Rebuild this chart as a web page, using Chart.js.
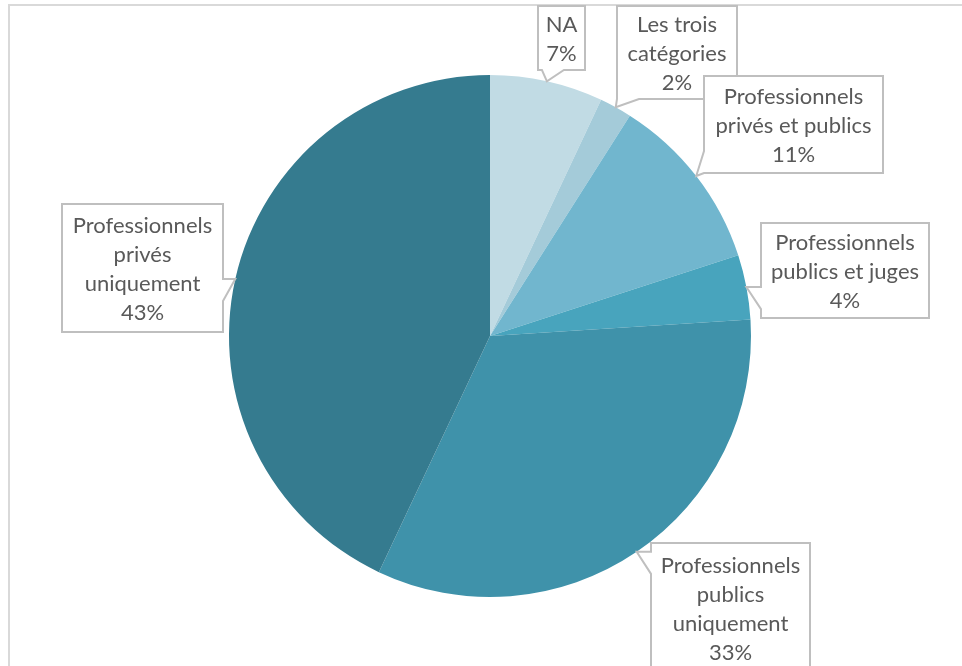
<!DOCTYPE html>
<html>
<head>
<meta charset="utf-8">
<script src="https://cdn.jsdelivr.net/npm/chart.js@4/dist/chart.umd.min.js"></script>
<style>
  html, body { margin: 0; padding: 0; background: #fff; }
  #wrap { width: 962px; height: 666px; position: relative; }
</style>
</head>
<body>
<div id="wrap"><canvas id="pie"></canvas></div>
<script>
const categories = [
  ['NA'],
  ['Les trois', 'catégories'],
  ['Professionnels', 'privés et publics'],
  ['Professionnels', 'publics et juges'],
  ['Professionnels', 'publics', 'uniquement'],
  ['Professionnels', 'privés', 'uniquement']
];
const shares = [7, 2, 11, 4, 33, 43];
const colors = ['#c1dbe4', '#a4cbd9', '#71b6ce', '#48a4bd', '#3f92aa', '#357b8f'];

// where each callout box sits on the page
const boxes = [
  { x: 538, y: 6, w: 47, h: 64 },
  { x: 617, y: 6, w: 120, h: 93 },
  { x: 704, y: 76, w: 179, h: 97 },
  { x: 761, y: 223, w: 168, h: 95 },
  { x: 651, y: 543, w: 159, h: 130 },
  { x: 62, y: 204, w: 161, h: 128 }
];

const frame = {
  id: 'frame',
  beforeDraw(chart) {
    const ctx = chart.ctx;
    ctx.save();
    ctx.strokeStyle = '#d9d9d9';
    ctx.lineWidth = 2;
    ctx.beginPath();
    ctx.moveTo(9, 700);
    ctx.lineTo(9, 5);
    ctx.lineTo(970, 5);
    ctx.stroke();
    ctx.restore();
  }
};

const callouts = {
  id: 'callouts',
  afterDraw(chart) {
    const ctx = chart.ctx;
    const arcs = chart.getDatasetMeta(0).data;
    ctx.save();
    arcs.forEach((arc, i) => {
      const b = boxes[i];
      const mid = (arc.startAngle + arc.endAngle) / 2;
      const tx = arc.x + Math.cos(mid) * arc.outerRadius;
      const ty = arc.y + Math.sin(mid) * arc.outerRadius;

      // pick the box side facing the tip
      const out = {
        left: b.x - tx, right: tx - (b.x + b.w),
        top: b.y - ty, bottom: ty - (b.y + b.h)
      };
      const side = Object.keys(out).reduce((a, k) => out[k] > out[a] ? k : a, 'left');
      const len = 22;
      const pts = [];
      const x0 = b.x, y0 = b.y, x1 = b.x + b.w, y1 = b.y + b.h;
      if (side === 'left' || side === 'right') {
        const p = Math.min(Math.max(ty, y0), y1 - len);
        const ex = side === 'left' ? x0 : x1;
        pts.push([ex, p], [tx, ty], [ex, p + len]);
      } else {
        const p = Math.min(Math.max(tx - 5, x0), x1 - len);
        const ey = side === 'top' ? y0 : y1;
        pts.push([p, ey], [tx, ty], [p + len, ey]);
      }

      // box outline with the pointer wedge cut into it
      ctx.beginPath();
      const corners = [[x0, y0], [x1, y0], [x1, y1], [x0, y1]];
      const edgeIdx = { top: 0, right: 1, bottom: 2, left: 3 }[side];
      for (let e = 0; e < 4; e++) {
        const c = corners[e];
        if (e === 0) ctx.moveTo(c[0], c[1]); else ctx.lineTo(c[0], c[1]);
        if (e === edgeIdx) {
          const seq = (side === 'top' || side === 'right') ? pts : pts.slice().reverse();
          seq.forEach(pt => ctx.lineTo(pt[0], pt[1]));
        }
      }
      ctx.closePath();
      ctx.fillStyle = '#ffffff';
      ctx.fill();
      ctx.strokeStyle = '#bfbfbf';
      ctx.lineWidth = 2;
      ctx.stroke();

      const lines = categories[i].concat([shares[i] + '%']);
      const lh = 29;
      ctx.fillStyle = '#595959';
      ctx.font = '22px Lato';
      ctx.textAlign = 'center';
      ctx.textBaseline = 'middle';
      const start = (y0 + y1) / 2 - (lines.length - 1) * lh / 2 + 1;
      lines.forEach((t, k) => ctx.fillText(t, (x0 + x1) / 2, start + k * lh));
    });
    ctx.restore();
  }
};

new Chart(document.getElementById('pie'), {
  type: 'pie',
  data: {
    labels: categories.map(c => c.join(' ')),
    datasets: [{
      data: shares,
      backgroundColor: colors,
      borderWidth: 0
    }]
  },
  options: {
    responsive: true,
    maintainAspectRatio: false,
    animation: false,
    layout: { padding: { top: 75, bottom: 69, left: 229, right: 211 } },
    plugins: {
      legend: { display: false },
      tooltip: { enabled: false }
    }
  },
  plugins: [frame, callouts]
});
</script>
</body>
</html>
